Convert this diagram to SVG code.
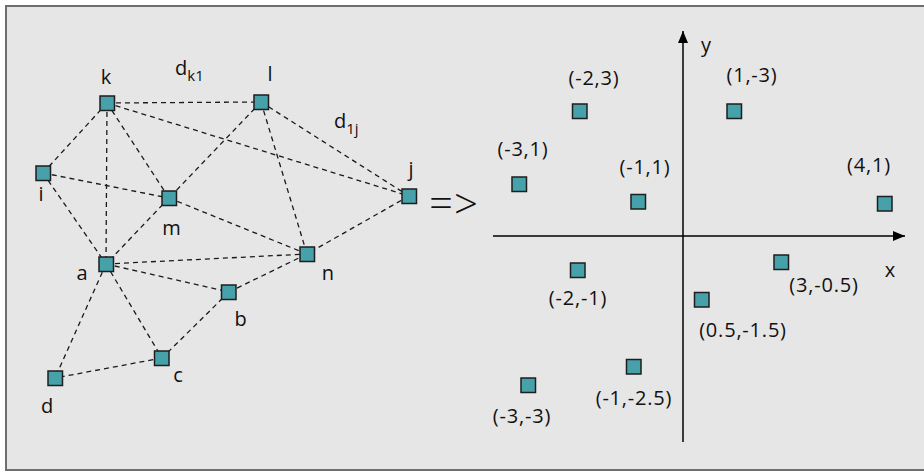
<svg xmlns="http://www.w3.org/2000/svg" width="924" height="474" viewBox="0 0 924 474">
<style>
.bg{fill:#e6e6e6;stroke:#6e6e6e;stroke-width:2}
.nd{fill:#47a1aa;stroke:#1e1e1e;stroke-width:1.5}
.ed{stroke:#1a1a1a;stroke-width:1.3;stroke-dasharray:5 4;fill:none}
.ax{stroke:#000;stroke-width:1.5;fill:none}
text{font-family:"Open Sans","DejaVu Sans",sans-serif;fill:#111;font-size:20px}
.c{text-anchor:middle}
.p{letter-spacing:0.8px}
.sub{font-size:15px}
.sym{font-size:42px;font-weight:300}
</style>
<defs>
<marker id="arr" viewBox="0 0 12 10" refX="12" refY="5" markerWidth="12" markerHeight="10" markerUnits="userSpaceOnUse" orient="auto">
<path d="M0,0 L12,5 L0,10 Z" fill="#000"/>
</marker>
</defs>
<rect class="bg" x="6" y="6" width="940" height="464"/>
<g id="connectors">
<line class="ed" x1="107" y1="103" x2="261" y2="102"/>
<line class="ed" x1="107" y1="103" x2="43" y2="173"/>
<line class="ed" x1="107" y1="103" x2="106" y2="264"/>
<line class="ed" x1="107" y1="103" x2="169" y2="198"/>
<line class="ed" x1="107" y1="103" x2="409" y2="196"/>
<line class="ed" x1="261" y1="102" x2="169" y2="198"/>
<line class="ed" x1="261" y1="102" x2="307" y2="254"/>
<line class="ed" x1="261" y1="102" x2="409" y2="196"/>
<line class="ed" x1="43" y1="173" x2="169" y2="198"/>
<line class="ed" x1="43" y1="173" x2="106" y2="264"/>
<line class="ed" x1="169" y1="198" x2="106" y2="264"/>
<line class="ed" x1="169" y1="198" x2="307" y2="254"/>
<line class="ed" x1="409" y1="196" x2="307" y2="254"/>
<line class="ed" x1="106" y1="264" x2="307" y2="254"/>
<line class="ed" x1="106" y1="264" x2="229" y2="292"/>
<line class="ed" x1="106" y1="264" x2="162" y2="358"/>
<line class="ed" x1="106" y1="264" x2="55" y2="378"/>
<line class="ed" x1="229" y1="292" x2="307" y2="254"/>
<line class="ed" x1="229" y1="292" x2="162" y2="358"/>
<line class="ed" x1="162" y1="358" x2="55" y2="378"/>
<line class="ax" x1="683" y1="442" x2="683" y2="31" marker-end="url(#arr)"/>
<line class="ax" x1="493" y1="236" x2="905" y2="236" marker-end="url(#arr)"/>
</g>
<g id="node-k"><rect class="nd" x="100" y="96" width="14.5" height="14.5"/><text class="c" x="106" y="84">k</text></g>
<g id="node-l"><rect class="nd" x="254" y="95" width="14.5" height="14.5"/><text class="c" x="270" y="81">l</text></g>
<g id="node-i"><rect class="nd" x="36" y="166" width="14.5" height="14.5"/><text class="c" x="41" y="201">i</text></g>
<g id="node-m"><rect class="nd" x="162" y="191" width="14.5" height="14.5"/><text class="c" x="171.5" y="235">m</text></g>
<g id="node-j"><rect class="nd" x="402" y="189" width="14.5" height="14.5"/><text class="c" x="411" y="176">j</text></g>
<g id="node-a"><rect class="nd" x="99" y="257" width="14.5" height="14.5"/><text class="c" x="82" y="280">a</text></g>
<g id="node-n"><rect class="nd" x="300" y="247" width="14.5" height="14.5"/><text class="c" x="328" y="280">n</text></g>
<g id="node-b"><rect class="nd" x="221.5" y="285" width="14.5" height="14.5"/><text class="c" x="240.5" y="326">b</text></g>
<g id="node-c"><rect class="nd" x="154.5" y="351" width="14.5" height="14.5"/><text class="c" x="178" y="382">c</text></g>
<g id="node-d"><rect class="nd" x="48" y="371" width="14.5" height="14.5"/><text class="c" x="47" y="413">d</text></g>
<g id="label-dk1"><text x="175" y="75">d<tspan class="sub" dy="6">k1</tspan></text></g>
<g id="label-d1j"><text x="334" y="128">d<tspan class="sub" dy="6">1j</tspan></text></g>
<g id="arrow-symbol"><text class="sym" x="429" y="218">=</text><text class="sym" x="454" y="219">&gt;</text></g>
<g id="label-y"><text class="c" x="706" y="52">y</text></g>
<g id="label-x"><text class="c" x="890" y="277">x</text></g>
<g id="pt-m2-3"><rect class="nd" x="572.5" y="104" width="14.5" height="14.5"/><text class="c p" x="594" y="85">(-2,3)</text></g>
<g id="pt-1-m3"><rect class="nd" x="727" y="104" width="14.5" height="14.5"/><text class="c p" x="752" y="82">(1,-3)</text></g>
<g id="pt-m3-1"><rect class="nd" x="512" y="177" width="14.5" height="14.5"/><text class="c p" x="523" y="156">(-3,1)</text></g>
<g id="pt-m1-1"><rect class="nd" x="631" y="194.5" width="14.5" height="14.5"/><text class="c p" x="645" y="174">(-1,1)</text></g>
<g id="pt-4-1"><rect class="nd" x="877.5" y="196.5" width="14.5" height="14.5"/><text class="c p" x="869" y="172">(4,1)</text></g>
<g id="pt-m2-m1"><rect class="nd" x="570.5" y="263" width="14.5" height="14.5"/><text class="c p" x="578" y="305">(-2,-1)</text></g>
<g id="pt-3-m05"><rect class="nd" x="774" y="255" width="14.5" height="14.5"/><text class="c p" x="824" y="292">(3,-0.5)</text></g>
<g id="pt-05-m15"><rect class="nd" x="694.5" y="292.5" width="14.5" height="14.5"/><text class="c p" x="743" y="337">(0.5,-1.5)</text></g>
<g id="pt-m3-m3"><rect class="nd" x="521" y="378" width="14.5" height="14.5"/><text class="c p" x="522" y="423">(-3,-3)</text></g>
<g id="pt-m1-m25"><rect class="nd" x="626.5" y="359.5" width="14.5" height="14.5"/><text class="c p" x="634" y="405">(-1,-2.5)</text></g>
</svg>
